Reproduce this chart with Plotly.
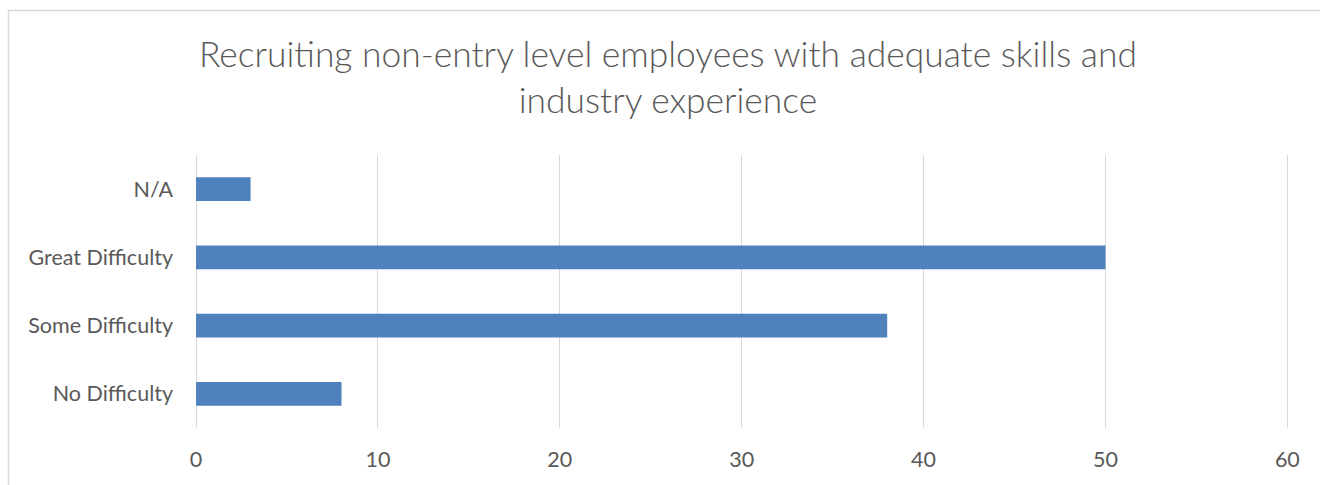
import plotly.graph_objects as go

# Survey responses
categories = ["No Difficulty", "Some Difficulty", "Great Difficulty", "N/A"]
values = [8, 38, 50, 3]
x_ticks = [0, 10, 20, 30, 40, 50, 60]

title_text = "Recruiting non-entry level employees with adequate skills and<br>industry experience"

text_color = "#595959"
grid_color = "#D9D9D9"
bar_color = "#4F81BD"
font_family = "Lato, Open Sans, sans-serif"

fig = go.Figure(
    go.Bar(
        y=categories,
        x=values,
        orientation="h",
        width=0.35,
        marker=dict(color=bar_color, line=dict(width=0)),
    )
)

fig.update_layout(
    width=1320,
    height=485,
    margin=dict(l=196, r=29, t=155, b=57),
    paper_bgcolor="white",
    plot_bgcolor="white",
    showlegend=False,
    font=dict(family=font_family, color=text_color),
    title=dict(
        text=title_text,
        x=0.506,
        xanchor="center",
        y=0.861,
        yanchor="middle",
        font=dict(size=35.4, color=text_color, family=font_family, weight=300),
    ),
    xaxis=dict(
        range=[0, 60.2],
        tickvals=x_ticks,
        showgrid=True,
        gridcolor=grid_color,
        gridwidth=1,
        zeroline=True,
        zerolinecolor=grid_color,
        zerolinewidth=1,
        showline=False,
        ticks="",
        ticklabelstandoff=16,
        tickfont=dict(size=21.5, color=text_color),
        fixedrange=True,
    ),
    yaxis=dict(
        categoryorder="array",
        categoryarray=categories,
        showgrid=False,
        showline=False,
        ticks="",
        ticklabelstandoff=22,
        tickfont=dict(size=21.5, color=text_color),
        fixedrange=True,
    ),
    shapes=[
        dict(
            type="rect",
            xref="paper",
            yref="paper",
            x0=(8.5 - 196) / 1095,
            x1=(1330 - 196) / 1095,
            y0=(428 - 495) / 273,
            y1=(428 - 10.5) / 273,
            line=dict(color="#D9D9D9", width=1.5),
            fillcolor="rgba(0,0,0,0)",
            layer="below",
        )
    ],
)

fig.write_html("out.html")
